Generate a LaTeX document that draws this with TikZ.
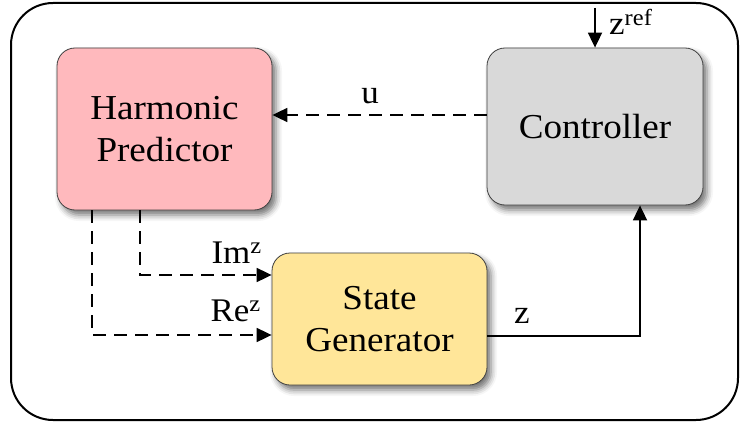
\documentclass[tikz,border=0pt]{standalone}
\usepackage{fontspec}
\setmainfont{Liberation Serif}[FakeStretch=1.06]
\usetikzlibrary{arrows.meta,shadows.blur,calc}
\definecolor{predpink}{HTML}{FFB9BD}
\definecolor{ctrlgray}{HTML}{D9D9D9}
\definecolor{genyellow}{HTML}{FFE699}
\definecolor{edgegray}{HTML}{404040}
\tikzset{
  block/.style={draw=edgegray, line width=0.8pt, rounded corners=18pt,
    minimum width=215pt, align=center,
    font=\fontsize{35}{42}\selectfont,
    blur shadow={shadow xshift=4pt, shadow yshift=-5pt, shadow opacity=55, shadow blur radius=6pt}},
  tip/.style={-{Triangle[length=15pt,width=14pt]}},
  sigdash/.style={tip, line width=1.8pt, dash pattern=on 13pt off 8pt},
  sigsolid/.style={tip, line width=1.8pt},
  lab/.style={font=\fontsize{33}{36}\selectfont, inner sep=0pt}
}
\begin{document}
\begin{tikzpicture}[x=1pt,y=-1pt]
\useasboundingbox (0,0) rectangle (741,425);
% outer frame
\draw[line width=2pt, rounded corners=42pt] (11,3) rectangle (738,420);

% blocks
\node[block, fill=predpink, minimum height=162pt] (hp) at (164.5,129) {Harmonic\\Predictor};
\node[block, fill=ctrlgray, minimum height=157pt, minimum width=216pt] (ctrl) at (595,126.5) {Controller};
\node[block, fill=genyellow, minimum height=132pt] (sg) at (379.5,319) {State\\Generator};

% reference input
\coordinate (zin) at (595,8);
\draw[sigsolid] (zin) -- (ctrl.north);
\node[lab, anchor=base west] (zref) at (609,35) {z\textsuperscript{ref}};

% control signal u
\draw[sigdash] ([yshift=11.5pt]ctrl.west) -- ([yshift=11.5pt]ctrl.west -| hp.east);
\node[lab, anchor=base] (ulab) at (370,103) {u};

% imaginary and real parts
\draw[sigdash] ([xshift=-24.5pt]hp.south) |- ([yshift=44pt]sg.west);
\draw[sigdash] ([xshift=-72.5pt]hp.south) |- ([yshift=-16pt]sg.west);
\node[lab, anchor=base east] (imlab) at (262,263) {Im\textsuperscript{z}};
\node[lab, anchor=base east] (relab) at (261,321) {Re\textsuperscript{z}};

% state feedback z
\draw[sigsolid] ([yshift=-17pt]sg.east) -| ([xshift=45pt]ctrl.south);
\node[lab, anchor=base] (zlab) at (522,323) {z};
\end{tikzpicture}
\end{document}
